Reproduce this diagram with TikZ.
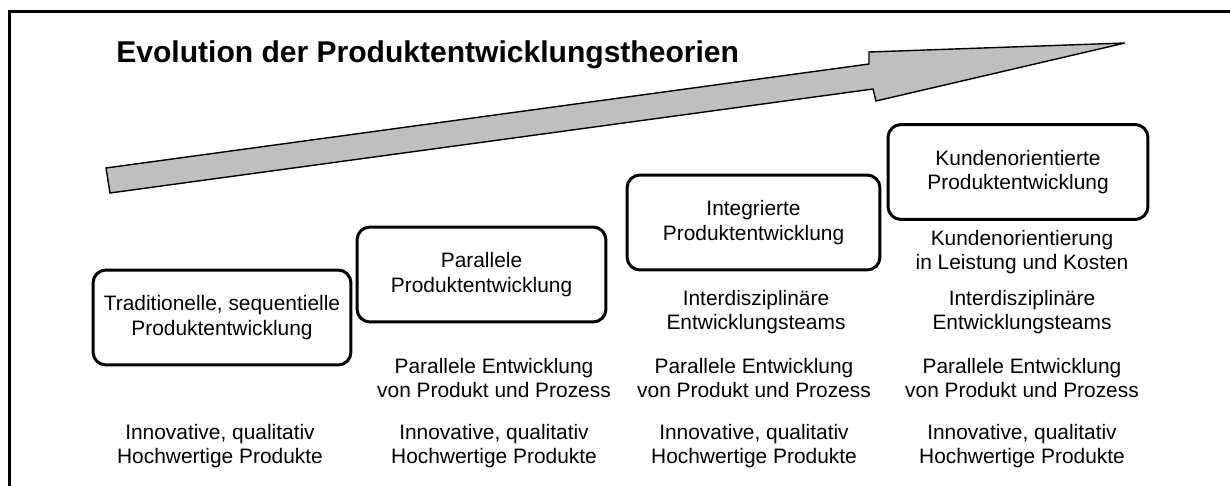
\documentclass[tikz,border=0pt]{standalone}
\usepackage{fontspec}
\setmainfont{Liberation Sans}
\usepackage{tikz}

\begin{document}
\begin{tikzpicture}[x=0.02cm, y=-0.02cm,
  stage/.style={draw=black, line width=1.7pt, rounded corners=0.26cm, minimum height=1.9cm, align=center, inner sep=0pt, font=\fontsize{11.9}{14}\selectfont},
  info/.style={align=center, inner sep=0pt, font=\fontsize{11.9}{14}\selectfont}]
\definecolor{arrowgray}{rgb}{0.75, 0.75, 0.75}
\useasboundingbox (0,0) rectangle (1230,486);

\draw [line width=1.4pt] (9.5,490) -- (9.5,11.5) -- (1235,11.5);

\draw [fill=arrowgray, line width=0.8pt, line join=miter] (106,168) -- (869,64) -- (869,52) -- (1125,43) -- (876,101) -- (873,89) -- (110,193) -- cycle;
\node (title) [anchor=west, inner sep=0pt, font=\fontsize{17.1}{20}\selectfont\bfseries] at (116,55) {Evolution der Produktentwicklungstheorien};

\node (b1) [stage, minimum width=5.16cm] at (222,317.5) {Traditionelle, sequentielle\\Produktentwicklung};
\node (b2) [stage, minimum width=4.98cm] at (481.5,274.5) {Parallele\\Produktentwicklung};
\node (b3) [stage, minimum width=5.06cm] at (753.5,222.5) {Integrierte\\Produktentwicklung};
\node (b4) [stage, minimum width=5.2cm] at (1018,172) {Kundenorientierte\\Produktentwicklung};

\node (k4) [info] at (1022,252) {Kundenorientierung\\in Leistung und Kosten};
\node (i3) [info] at (756,312) {Interdisziplinäre\\Entwicklungsteams};
\node (i4) [info] at (1022,312) {Interdisziplinäre\\Entwicklungsteams};
\node (p2) [info] at (494,378) {Parallele Entwicklung\\von Produkt und Prozess};
\node (p3) [info] at (754,378) {Parallele Entwicklung\\von Produkt und Prozess};
\node (p4) [info] at (1022,378) {Parallele Entwicklung\\von Produkt und Prozess};
\node (q1) [info] at (220,446) {Innovative, qualitativ\\Hochwertige Produkte};
\node (q2) [info] at (494,446) {Innovative, qualitativ\\Hochwertige Produkte};
\node (q3) [info] at (754,446) {Innovative, qualitativ\\Hochwertige Produkte};
\node (q4) [info] at (1022,446) {Innovative, qualitativ\\Hochwertige Produkte};
\end{tikzpicture}
\end{document}
